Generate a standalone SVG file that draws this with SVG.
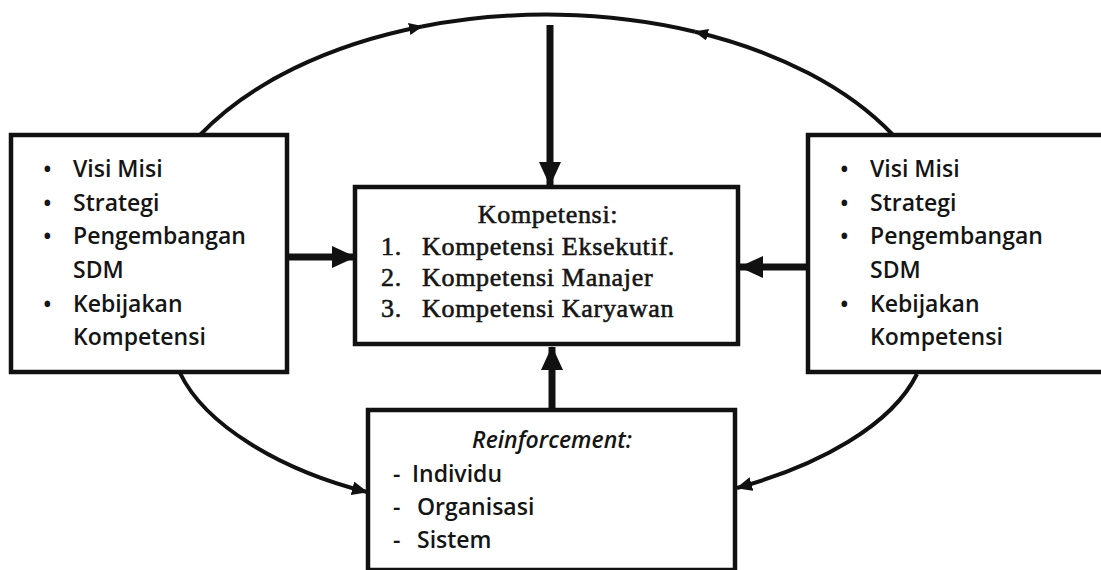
<svg xmlns="http://www.w3.org/2000/svg" width="1101" height="570" viewBox="0 0 1101 570">
<style>
.box{fill:#fff;stroke:#111;stroke-width:4.5}
.sans{font-family:"Open Sans","Noto Sans","Liberation Sans",sans-serif;font-size:23px;font-weight:600;fill:#151515}
.serif{font-family:"Liberation Serif","Times New Roman",serif;font-size:26px;font-weight:normal;letter-spacing:0.7px;fill:#151515;stroke:#151515;stroke-width:0.6}
.arc{fill:none;stroke:#111;stroke-width:4}
.thick{fill:none;stroke:#111;stroke-width:7}
</style>
<defs>
<marker id="small" markerUnits="userSpaceOnUse" markerWidth="16" markerHeight="14" refX="15" refY="7" orient="auto">
<path d="M0,0 L16,7 L0,14 z" fill="#111"/>
</marker>
<marker id="tiny" markerUnits="userSpaceOnUse" markerWidth="14" markerHeight="12" refX="13" refY="6" orient="auto">
<path d="M0,0 L14,6 L0,12 z" fill="#111"/>
</marker>
<marker id="big" markerUnits="userSpaceOnUse" markerWidth="24" markerHeight="24" refX="23" refY="12" orient="auto">
<path d="M0,1 L24,12 L0,23 z" fill="#111"/>
</marker>
</defs>
<rect width="1101" height="570" fill="#fff"/>

<g id="connectors">
<path class="arc" d="M200,135 A398,237 0 0 1 422,26.5" marker-end="url(#tiny)"/>
<path class="arc" d="M422,26.5 A398,237 0 0 1 695,31.7"/>
<path class="arc" d="M893,135 A398,237 0 0 0 695,31.7" marker-end="url(#tiny)"/>
<path class="arc" d="M180,373 C205,425 280,470 367,492" marker-end="url(#small)"/>
<path class="arc" d="M917,374 C892,425 820,465 737,488" marker-end="url(#small)"/>
<line class="thick" x1="550" y1="25" x2="550" y2="185" marker-end="url(#big)"/>
<line class="thick" x1="287" y1="257" x2="355" y2="257" marker-end="url(#big)"/>
<line class="thick" x1="808" y1="267" x2="740" y2="267" marker-end="url(#big)"/>
<line class="thick" x1="552" y1="410" x2="552" y2="347" marker-end="url(#big)"/>
</g>

<g id="node-left">
<rect class="box" x="11" y="135" width="276" height="237"/>
<text class="sans"><tspan x="43" y="177">•</tspan><tspan x="73" y="177">Visi Misi</tspan></text>
<text class="sans"><tspan x="43" y="211">•</tspan><tspan x="73" y="211">Strategi</tspan></text>
<text class="sans"><tspan x="43" y="244">•</tspan><tspan x="73" y="244">Pengembangan</tspan></text>
<text class="sans" x="73" y="278">SDM</text>
<text class="sans"><tspan x="43" y="312">•</tspan><tspan x="73" y="312">Kebijakan</tspan></text>
<text class="sans" x="73" y="345">Kompetensi</text>
</g>

<g id="node-right">
<rect class="box" x="808" y="135" width="300" height="237"/>
<text class="sans"><tspan x="840" y="177">•</tspan><tspan x="870" y="177">Visi Misi</tspan></text>
<text class="sans"><tspan x="840" y="211">•</tspan><tspan x="870" y="211">Strategi</tspan></text>
<text class="sans"><tspan x="840" y="244">•</tspan><tspan x="870" y="244">Pengembangan</tspan></text>
<text class="sans" x="870" y="278">SDM</text>
<text class="sans"><tspan x="840" y="312">•</tspan><tspan x="870" y="312">Kebijakan</tspan></text>
<text class="sans" x="870" y="345">Kompetensi</text>
</g>

<g id="node-center">
<rect class="box" x="355" y="187" width="383" height="157"/>
<text class="serif" x="548" y="223" text-anchor="middle">Kompetensi:</text>
<text class="serif"><tspan x="381" y="255">1.</tspan><tspan x="422" y="255">Kompetensi Eksekutif.</tspan></text>
<text class="serif"><tspan x="381" y="286">2.</tspan><tspan x="422" y="286">Kompetensi Manajer</tspan></text>
<text class="serif"><tspan x="381" y="317">3.</tspan><tspan x="422" y="317">Kompetensi Karyawan</tspan></text>
</g>

<g id="node-bottom">
<rect class="box" x="368" y="410" width="367" height="160"/>
<text class="sans" x="552" y="448" text-anchor="middle" font-style="italic">Reinforcement:</text>
<text class="sans"><tspan x="393" y="482">-</tspan><tspan x="412" y="482">Individu</tspan></text>
<text class="sans"><tspan x="393" y="515">-</tspan><tspan x="417" y="515">Organisasi</tspan></text>
<text class="sans"><tspan x="393" y="548">-</tspan><tspan x="417" y="548">Sistem</tspan></text>
</g>
</svg>
